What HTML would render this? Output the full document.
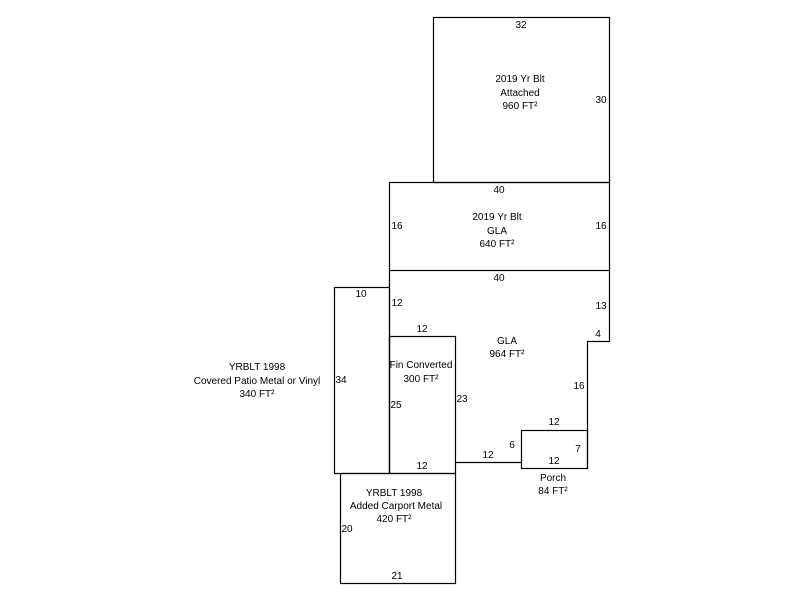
<!DOCTYPE html>
<html><head><style>
html,body{margin:0;padding:0;background:#fff;}
svg{display:block;}
text{font-family:"Liberation Sans",Arial,sans-serif;font-size:10px;fill:#000;}
</style></head><body>
<svg width="800" height="600" viewBox="0 0 800 600" xmlns="http://www.w3.org/2000/svg">
<g fill="none" stroke="#000" stroke-width="1.2">
<rect x="433.5" y="17.5" width="176" height="165"/>
<rect x="389.5" y="182.5" width="220" height="88"/>
<polyline points="389.5,270.5 389.5,473.5"/>
<polyline points="609.5,270.5 609.5,341.5 587.5,341.5 587.5,468"/>
<rect x="334.5" y="287.5" width="55" height="186"/>
<rect x="389.5" y="336.5" width="66" height="137"/>
<line x1="455.5" y1="462.5" x2="521.5" y2="462.5"/>
<rect x="521.5" y="430.5" width="66" height="38"/>
<rect x="340.5" y="473.5" width="115" height="110"/>
</g>
<g text-anchor="middle">
<text x="521" y="28">32</text>
<text x="520" y="82">2019 Yr Blt</text>
<text x="520" y="96">Attached</text>
<text x="520" y="109">960 FT²</text>
<text x="601" y="103">30</text>
<text x="499" y="193">40</text>
<text x="497" y="220">2019 Yr Blt</text>
<text x="497" y="234">GLA</text>
<text x="497" y="247">640 FT²</text>
<text x="397" y="229">16</text>
<text x="601" y="229">16</text>
<text x="499" y="281">40</text>
<text x="361" y="297">10</text>
<text x="397" y="306">12</text>
<text x="601" y="309">13</text>
<text x="422" y="332">12</text>
<text x="598" y="337">4</text>
<text x="507" y="344">GLA</text>
<text x="507" y="357">964 FT²</text>
<text x="421" y="368">Fin Converted</text>
<text x="421" y="382">300 FT²</text>
<text x="257" y="370">YRBLT 1998</text>
<text x="257" y="384">Covered Patio Metal or Vinyl</text>
<text x="257" y="397">340 FT²</text>
<text x="341" y="383">34</text>
<text x="579" y="389">16</text>
<text x="396" y="408">25</text>
<text x="462" y="402">23</text>
<text x="554" y="425">12</text>
<text x="512" y="448">6</text>
<text x="578" y="452">7</text>
<text x="488" y="458">12</text>
<text x="554" y="464">12</text>
<text x="422" y="469">12</text>
<text x="553" y="481">Porch</text>
<text x="553" y="494">84 FT²</text>
<text x="394" y="496">YRBLT 1998</text>
<text x="396" y="509">Added Carport Metal</text>
<text x="394" y="522">420 FT²</text>
<text x="347" y="532">20</text>
<text x="397" y="579">21</text>
</g>
</svg>
</body></html>
